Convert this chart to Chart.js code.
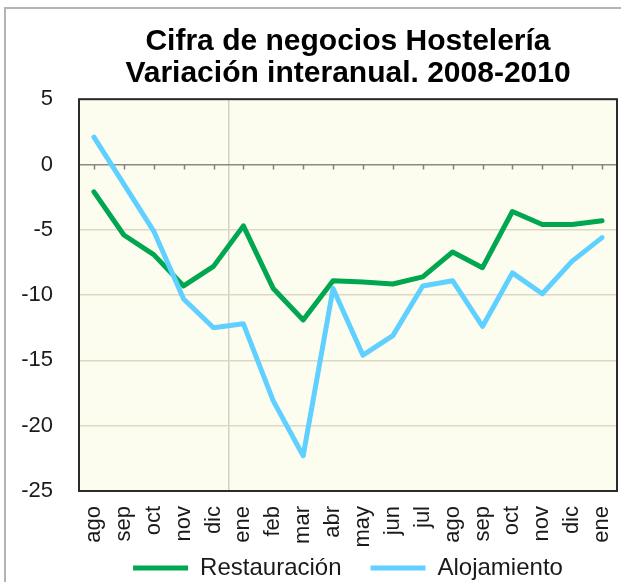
<!DOCTYPE html>
<html>
<head>
<meta charset="utf-8">
<script src="https://cdn.jsdelivr.net/npm/chart.js@4.4.0/dist/chart.umd.min.js"></script>
<style>
  body { margin: 0; background: #fff; }
  #frame { position: absolute; left: 4px; top: 7px; width: 700px; height: 700px;
           border-left: 2px solid #b4b4b4; border-top: 2px solid #b4b4b4; }
  #wrap { position: absolute; left: 0; top: 0; width: 621px; height: 582px; }
</style>
</head>
<body>
<div id="frame"></div>
<div id="wrap"><canvas id="myChart" width="621" height="582"></canvas></div>
<script>
// months, ago 2008 to ene 2010
var months = ["ago", "sep", "oct", "nov", "dic", "ene", "feb", "mar", "abr", "may",
              "jun", "jul", "ago", "sep", "oct", "nov", "dic", "ene"];

var restauracion = [-2.1, -5.4, -6.9, -9.3, -7.8, -4.7, -9.5, -11.9, -8.9, -9.0,
                    -9.15, -8.6, -6.7, -7.9, -3.6, -4.6, -4.6, -4.3];

var alojamiento = [2.1, -1.5, -5.1, -10.3, -12.5, -12.2, -18.1, -22.3, -9.5, -14.6,
                   -13.1, -9.3, -8.9, -12.4, -8.3, -9.9, -7.4, -5.6];

var yTicks = [5, 0, -5, -10, -15, -20, -25];

var titleLines = ["Cifra de negocios Hostelería", "Variación interanual. 2008-2010"];

var fontFamily = '"Liberation Sans", Arial, sans-serif';

// cream plot area, dark frame and little ticks on the zero line
var plotFrame = {
  id: 'plotFrame',
  beforeDraw: function(chart) {
    var a = chart.chartArea, ctx = chart.ctx;
    ctx.save();
    ctx.fillStyle = '#fdfdef';
    ctx.fillRect(a.left, a.top, a.right - a.left, a.bottom - a.top);
    ctx.restore();
  },
  afterDatasetsDraw: function(chart) {
    var a = chart.chartArea, ctx = chart.ctx;
    var x = chart.scales.x, y = chart.scales.y;
    var y0 = y.getPixelForValue(0);
    ctx.save();
    ctx.strokeStyle = '#808080';
    ctx.lineWidth = 1.5;
    ctx.beginPath();
    for (var i = 0; i < months.length; i++) {
      var px = Math.round(x.getPixelForValue(i)) + 0.5;
      ctx.moveTo(px, y0);
      ctx.lineTo(px, y0 + 5);
    }
    ctx.stroke();
    ctx.strokeStyle = '#2b2b2b';
    ctx.lineWidth = 2;
    ctx.strokeRect(a.left, a.top, a.right - a.left, a.bottom - a.top);
    ctx.restore();
  }
};

var ctx = document.getElementById('myChart').getContext('2d');
var myLineChart = new Chart(ctx, {
  type: 'line',
  data: {
    labels: months,
    datasets: [
      {
        label: 'Restauración',
        data: restauracion,
        borderColor: '#00a650',
        backgroundColor: '#00a650',
        borderWidth: 5,
        pointRadius: 0,
        tension: 0,
        borderJoinStyle: 'round',
        borderCapStyle: 'round',
        order: 2
      },
      {
        label: 'Alojamiento',
        data: alojamiento,
        borderColor: '#5fd0ff',
        backgroundColor: '#5fd0ff',
        borderWidth: 5,
        pointRadius: 0,
        tension: 0,
        borderJoinStyle: 'round',
        borderCapStyle: 'round',
        order: 1
      }
    ]
  },
  options: {
    responsive: false,
    animation: false,
    layout: { padding: { left: 0, right: 4, top: 0, bottom: 0 } },
    plugins: {
      title: {
        display: true,
        fullSize: false,
        text: titleLines,
        color: '#000',
        font: { family: fontFamily, size: 30, weight: 'bold', lineHeight: 1.07 },
        padding: { top: 26, bottom: 9 }
      },
      legend: {
        position: 'bottom',
        fullSize: false,
        maxHeight: 35,
        labels: {
          usePointStyle: true,
          pointStyle: 'line',
          pointStyleWidth: 55,
          color: '#1a1a1a',
          padding: 9,
          font: { family: fontFamily, size: 24 },
          sort: function(a, b) { return a.datasetIndex - b.datasetIndex; },
          generateLabels: function(chart) {
            var items = Chart.defaults.plugins.legend.labels.generateLabels(chart);
            // a bit more room between the two entries
            items.forEach(function(it) {
              if (it.datasetIndex === 0) it.text = it.text + '\u00a0\u00a0\u00a0';
            });
            return items;
          }
        }
      },
      tooltip: { enabled: false }
    },
    scales: {
      x: {
        offset: true,
        afterFit: function(scale) {
          scale.height = 56;
          scale.paddingLeft = 0;
          scale.paddingRight = 0;
        },
        grid: {
          offset: true,
          drawTicks: false,
          lineWidth: 1.5,
          color: function(c) { return c.index === 5 ? '#d6d2c0' : 'rgba(0,0,0,0)'; }
        },
        border: { display: false },
        ticks: {
          minRotation: 90,
          maxRotation: 90,
          autoSkip: false,
          padding: 15,
          color: '#1a1a1a',
          font: { family: fontFamily, size: 22 }
        }
      },
      y: {
        min: -25,
        max: 5,
        afterFit: function(scale) { scale.width = 79; },
        afterBuildTicks: function(scale) {
          scale.ticks = yTicks.map(function(v) { return { value: v }; });
        },
        grid: {
          drawTicks: false,
          lineWidth: 1.5,
          color: function(c) {
            if (c.tick && c.tick.value === 0) return '#8a8a8a';
            return '#dcd8c4';
          }
        },
        border: { display: false },
        ticks: {
          padding: 26,
          color: '#1a1a1a',
          font: { family: fontFamily, size: 22 }
        }
      }
    }
  },
  plugins: [plotFrame]
});
</script>
</body>
</html>
